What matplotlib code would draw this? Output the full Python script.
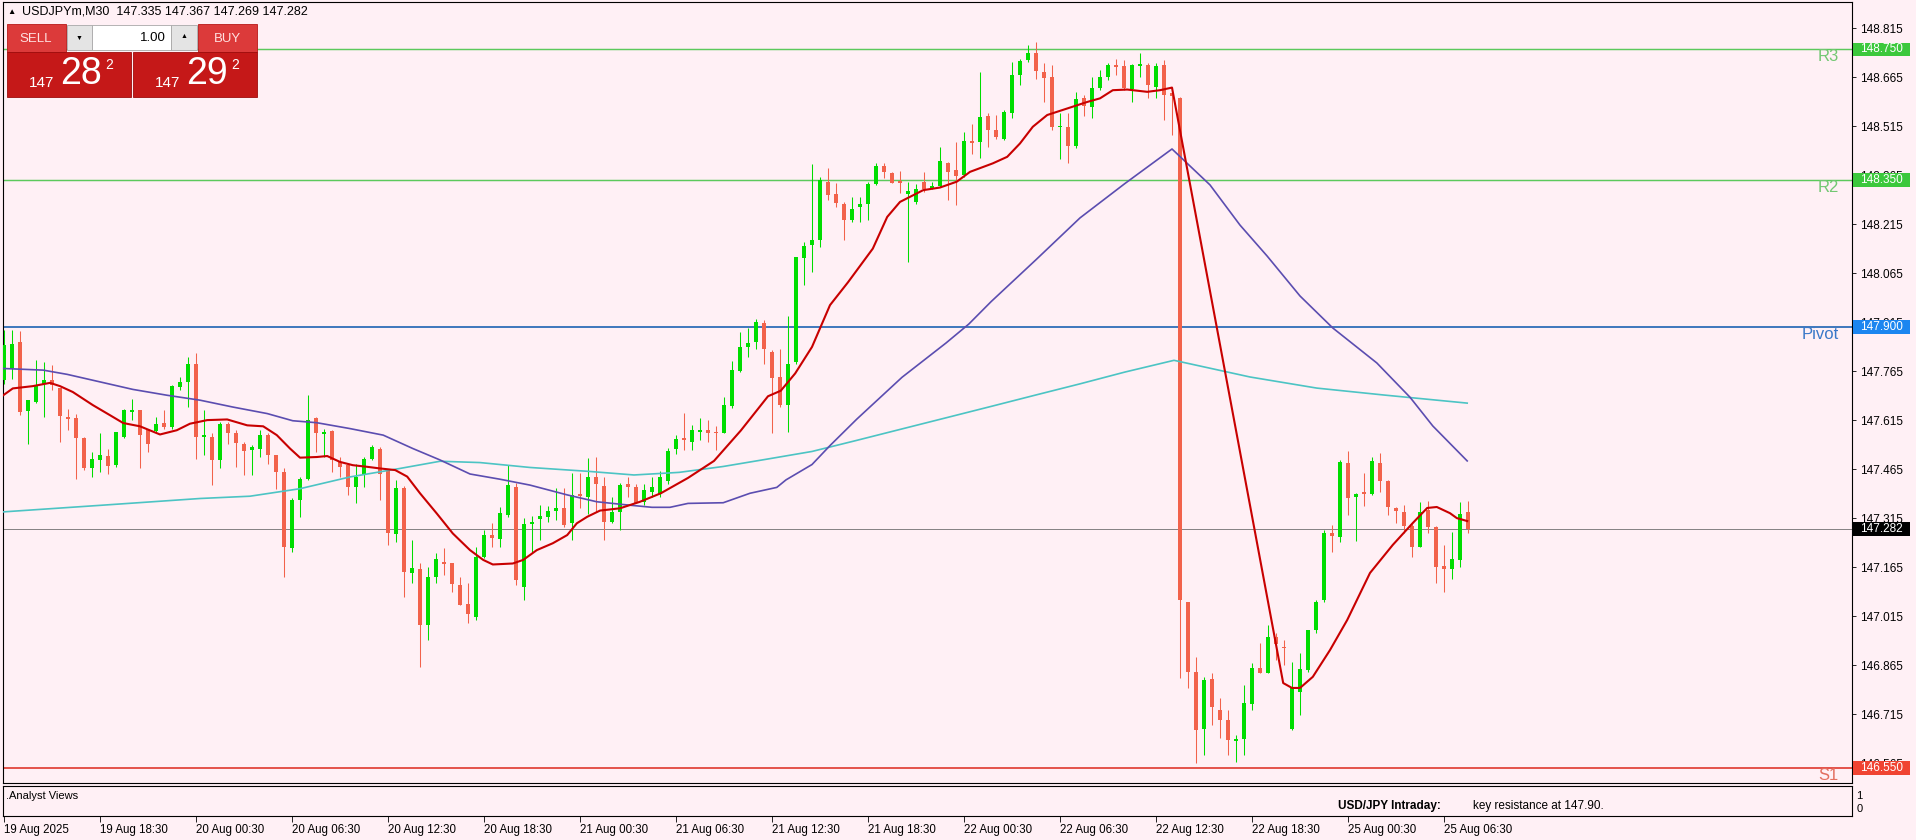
"""
USDJPYm M30 chart - MT4 style candlesticks with MAs and pivot levels.
Writes out.png (1916x840).
"""

import numpy as np
import matplotlib.pyplot as plt
from matplotlib import transforms
from matplotlib.patches import Rectangle

W, H = 1916, 840
BG = "#FFF0F5"
BULL = "#00DD00"
BEAR = "#F2624B"

# ---- OHLC, one bar per 30 min, oldest first ----
bar_open = [
    147.737, 147.773, 147.854, 147.643, 147.671, 147.725, 147.737, 147.712, 147.625, 147.620,
    147.559, 147.467, 147.494, 147.504, 147.477, 147.564, 147.640, 147.645, 147.584, 147.582,
    147.607, 147.594, 147.715, 147.732, 147.788, 147.564, 147.564, 147.494, 147.604, 147.576,
    147.543, 147.523, 147.528, 147.569, 147.508, 147.457, 147.222, 147.370, 147.436, 147.620,
    147.572, 147.581, 147.487, 147.477, 147.411, 147.446, 147.497, 147.528, 147.462, 147.266,
    147.406, 147.148, 147.158, 146.988, 147.136, 147.181, 147.176, 147.110, 147.052, 147.011,
    147.195, 147.263, 147.250, 147.324, 147.411, 147.105, 147.297, 147.311, 147.319, 147.337,
    147.345, 147.299, 147.389, 147.380, 147.442, 147.414, 147.304, 147.335, 147.419, 147.409,
    147.365, 147.395, 147.390, 147.430, 147.525, 147.559, 147.549, 147.579, 147.584, 147.579,
    147.576, 147.658, 147.766, 147.840, 147.855, 147.913, 147.824, 147.748, 147.661, 147.794,
    148.110, 148.151, 148.166, 148.345, 148.306, 148.278, 148.227, 148.266, 148.276, 148.337,
    148.393, 148.370, 148.345, 148.306, 148.283, 148.345, 148.327, 148.331, 148.403, 148.382,
    148.365, 148.470, 148.467, 148.546, 148.503, 148.477, 148.556, 148.671, 148.717, 148.740,
    148.681, 148.664, 148.511, 148.511, 148.454, 148.600, 148.574, 148.633, 148.664, 148.702,
    148.699, 148.630, 148.700, 148.702, 148.635, 148.702, 148.615, 148.600, 147.059, 146.845,
    146.668, 146.821, 146.729, 146.697, 146.632, 146.638, 146.746, 146.855, 146.842, 146.952,
    146.921, 146.668, 146.784, 146.850, 146.972, 147.064, 147.268, 147.258, 147.485, 147.380,
    147.396, 147.389, 147.485, 147.429, 147.345, 147.335, 147.291, 147.227, 147.340, 147.289,
    147.168, 147.158, 147.187, 147.335,
]
bar_high = [
    147.890, 147.892, 147.888, 147.676, 147.798, 147.793, 147.783, 147.712, 147.650, 147.635,
    147.564, 147.518, 147.574, 147.528, 147.579, 147.650, 147.681, 147.645, 147.589, 147.625,
    147.645, 147.722, 147.747, 147.809, 147.819, 147.645, 147.574, 147.610, 147.610, 147.584,
    147.548, 147.538, 147.584, 147.574, 147.508, 147.467, 147.375, 147.441, 147.691, 147.625,
    147.589, 147.584, 147.502, 147.482, 147.482, 147.502, 147.538, 147.533, 147.462, 147.432,
    147.413, 147.248, 147.178, 147.166, 147.207, 147.222, 147.178, 147.135, 147.115, 147.227,
    147.279, 147.299, 147.350, 147.478, 147.421, 147.314, 147.321, 147.355, 147.352, 147.406,
    147.406, 147.452, 147.454, 147.498, 147.501, 147.442, 147.380, 147.423, 147.442, 147.419,
    147.420, 147.440, 147.460, 147.530, 147.570, 147.636, 147.600, 147.620, 147.615, 147.597,
    147.687, 147.797, 147.886, 147.896, 147.926, 147.921, 147.829, 147.834, 147.933, 148.115,
    148.161, 148.399, 148.360, 148.388, 148.340, 148.283, 148.299, 148.299, 148.345, 148.403,
    148.401, 148.375, 148.378, 148.345, 148.337, 148.375, 148.345, 148.452, 148.406, 148.467,
    148.498, 148.523, 148.681, 148.554, 148.549, 148.564, 148.712, 148.719, 148.763, 148.773,
    148.707, 148.702, 148.554, 148.556, 148.620, 148.610, 148.666, 148.686, 148.707, 148.722,
    148.717, 148.705, 148.740, 148.707, 148.707, 148.717, 148.625, 148.605, 147.059, 146.891,
    146.829, 146.840, 146.763, 146.727, 146.651, 146.804, 146.870, 146.933, 146.988, 146.962,
    146.942, 146.875, 146.901, 146.972, 147.064, 147.278, 147.294, 147.493, 147.521, 147.393,
    147.452, 147.503, 147.513, 147.431, 147.348, 147.355, 147.297, 147.365, 147.368, 147.291,
    147.232, 147.273, 147.365, 147.367,
]
bar_low = [
    147.727, 147.742, 147.630, 147.543, 147.666, 147.623, 147.706, 147.548, 147.584, 147.436,
    147.462, 147.441, 147.456, 147.451, 147.472, 147.559, 147.615, 147.467, 147.518, 147.574,
    147.589, 147.589, 147.706, 147.655, 147.497, 147.508, 147.416, 147.467, 147.543, 147.472,
    147.446, 147.446, 147.502, 147.482, 147.405, 147.135, 147.212, 147.319, 147.431, 147.518,
    147.502, 147.457, 147.441, 147.385, 147.360, 147.411, 147.492, 147.370, 147.232, 147.243,
    147.074, 147.115, 146.860, 146.942, 147.115, 147.141, 147.090, 147.049, 146.995, 147.003,
    147.192, 147.227, 147.227, 147.319, 147.110, 147.064, 147.207, 147.248, 147.304, 147.309,
    147.289, 147.248, 147.345, 147.329, 147.335, 147.248, 147.299, 147.278, 147.380, 147.360,
    147.355, 147.380, 147.380, 147.420, 147.510, 147.523, 147.523, 147.554, 147.549, 147.523,
    147.574, 147.651, 147.763, 147.809, 147.834, 147.788, 147.574, 147.656, 147.579, 147.788,
    148.028, 148.069, 148.146, 148.289, 148.268, 148.166, 148.222, 148.222, 148.227, 148.334,
    148.355, 148.340, 148.309, 148.100, 148.278, 148.314, 148.321, 148.329, 148.289, 148.273,
    148.360, 148.431, 148.416, 148.452, 148.477, 148.472, 148.541, 148.640, 148.712, 148.658,
    148.589, 148.503, 148.413, 148.401, 148.447, 148.546, 148.539, 148.627, 148.656, 148.671,
    148.625, 148.589, 148.666, 148.600, 148.600, 148.533, 148.488, 146.824, 146.794, 146.564,
    146.590, 146.681, 146.641, 146.590, 146.569, 146.590, 146.727, 146.840, 146.840, 146.880,
    146.865, 146.666, 146.712, 146.845, 146.962, 147.059, 147.212, 147.243, 147.324, 147.246,
    147.352, 147.386, 147.396, 147.324, 147.299, 147.268, 147.197, 147.225, 147.268, 147.115,
    147.090, 147.130, 147.166, 147.269,
]
bar_close = [
    147.844, 147.849, 147.640, 147.676, 147.722, 147.737, 147.722, 147.627, 147.617, 147.559,
    147.467, 147.497, 147.507, 147.474, 147.579, 147.645, 147.647, 147.569, 147.541, 147.604,
    147.594, 147.719, 147.732, 147.786, 147.564, 147.569, 147.492, 147.604, 147.574, 147.545,
    147.520, 147.533, 147.569, 147.508, 147.457, 147.227, 147.370, 147.436, 147.615, 147.574,
    147.579, 147.492, 147.472, 147.411, 147.441, 147.497, 147.533, 147.451, 147.268, 147.406,
    147.151, 147.161, 146.988, 147.136, 147.189, 147.174, 147.113, 147.049, 147.021, 147.195,
    147.263, 147.253, 147.332, 147.416, 147.127, 147.297, 147.304, 147.321, 147.338, 147.345,
    147.294, 147.386, 147.384, 147.440, 147.419, 147.304, 147.335, 147.415, 147.409, 147.362,
    147.400, 147.410, 147.440, 147.520, 147.556, 147.554, 147.586, 147.586, 147.576, 147.574,
    147.661, 147.768, 147.840, 147.852, 147.916, 147.834, 147.743, 147.661, 147.788, 148.113,
    148.149, 148.166, 148.350, 148.304, 148.280, 148.227, 148.262, 148.276, 148.337, 148.393,
    148.375, 148.342, 148.342, 148.316, 148.324, 148.321, 148.331, 148.409, 148.375, 148.362,
    148.470, 148.462, 148.544, 148.503, 148.482, 148.559, 148.671, 148.715, 148.740, 148.684,
    148.661, 148.511, 148.515, 148.454, 148.597, 148.576, 148.633, 148.664, 148.702, 148.697,
    148.633, 148.702, 148.704, 148.640, 148.699, 148.610, 148.607, 147.064, 146.845, 146.666,
    146.819, 146.736, 146.697, 146.636, 146.638, 146.748, 146.855, 146.842, 146.952, 146.929,
    146.918, 146.794, 146.852, 146.972, 147.059, 147.270, 147.260, 147.488, 147.378, 147.389,
    147.389, 147.491, 147.428, 147.348, 147.338, 147.291, 147.227, 147.335, 147.289, 147.164,
    147.158, 147.189, 147.327, 147.282,
]

# ---- moving averages, read at bar positions ----
ma_fast_bars = [-0.1, 1.1, 3.6, 5.75, 7, 8.6, 11.1, 13.25, 14.9, 17, 19.5, 21.6, 23.25, 25.4,
                27.9, 30.4, 32.4, 34.1, 35.75, 37, 39.1, 40.4, 42, 43.6, 45.4, 47, 48.9, 50.4,
                52, 54.1, 56.1, 58.25, 59.9, 61.1, 63.6, 64.9, 66.6, 68.6, 70.4, 71.6, 72.9,
                74.5, 77, 79.5, 82.1, 85.5, 88.75, 92.1, 95.5, 97.1, 98.9, 101, 103.25, 105.5,
                108.6, 110.4, 112, 114.9, 117, 119.1, 120.75, 123.6, 125.4, 127, 128.6, 130.4,
                132.9, 135.4, 137, 138.6, 140.4, 142.9, 144.5, 146, 159.9, 161, 162, 163.6,
                165.75, 167.9, 170.75, 173.6, 176.1, 177.9, 179.1, 180.75, 181.6, 182.9]
ma_fast = [147.691, 147.712, 147.719, 147.729, 147.719, 147.701, 147.661, 147.630, 147.606,
           147.596, 147.571, 147.584, 147.604, 147.615, 147.617, 147.599, 147.596, 147.569,
           147.528, 147.500, 147.502, 147.505, 147.487, 147.477, 147.472, 147.467, 147.462,
           147.442, 147.391, 147.329, 147.268, 147.217, 147.187, 147.173, 147.176, 147.187,
           147.217, 147.238, 147.263, 147.299, 147.319, 147.338, 147.345, 147.365, 147.391,
           147.438, 147.490, 147.583, 147.688, 147.705, 147.758, 147.839, 147.967, 148.037,
           148.140, 148.237, 148.283, 148.319, 148.327, 148.345, 148.375, 148.401, 148.421,
           148.462, 148.513, 148.549, 148.569, 148.589, 148.600, 148.625, 148.627, 148.620,
           148.625, 148.633, 146.810, 146.795, 146.795, 146.829, 146.911, 147.003, 147.147,
           147.233, 147.300, 147.346, 147.349, 147.330, 147.315, 147.306]

ma_mid_bars = [-0.1, 4.9, 7.9, 12, 16.1, 20.4, 24.5, 28.6, 32.9, 36.1, 39.1, 43.25, 47.4, 51.1,
               54.5, 58.25, 62, 65.75, 70.4, 74.1, 77.6, 81, 83.25, 85.5, 89.9, 93.25, 96.6,
               97.75, 101, 103.25, 106.6, 112.25, 117.75, 120.6, 123.4, 129, 134.5, 140.1, 146,
               150.75, 154.5, 157.9, 162, 166.1, 171.6, 175.75, 178.6, 182.9]
ma_mid = [147.773, 147.768, 147.755, 147.732, 147.709, 147.691, 147.676, 147.655, 147.635,
          147.613, 147.607, 147.589, 147.569, 147.528, 147.493, 147.450, 147.434, 147.416,
          147.386, 147.365, 147.356, 147.348, 147.348, 147.360, 147.362, 147.391, 147.409,
          147.432, 147.479, 147.537, 147.618, 147.746, 147.851, 147.909, 147.978, 148.106,
          148.234, 148.339, 148.445, 148.335, 148.212, 148.117, 147.995, 147.897, 147.790,
          147.685, 147.597, 147.490]

ma_slow_bars = [-0.1, 12, 24.5, 30.75, 37, 43.25, 49.5, 54.5, 59.5, 65.75, 73.1, 78.75, 84.4,
                89.9, 95.5, 101, 106.6, 112.25, 117.75, 123.4, 129, 134.5, 140.1, 146.25,
                155.75, 164.1, 172.4, 182.9]
ma_slow = [147.334, 147.354, 147.375, 147.382, 147.405, 147.441, 147.467, 147.489, 147.485,
           147.470, 147.458, 147.447, 147.455, 147.473, 147.496, 147.519, 147.553, 147.588,
           147.622, 147.657, 147.692, 147.726, 147.762, 147.798, 147.747, 147.713, 147.692,
           147.667]

# ---- levels and labels ----
level_names = ["R3", "R2", "Pivot", "S1"]
level_prices = [148.750, 148.350, 147.900, 146.550]
level_line_colors = ["#5CC95C", "#5CC95C", "#2F6EB8", "#E2463C"]
level_text_colors = ["#72C772", "#72C772", "#3A78C8", "#E36F60"]
level_box_colors = ["#3CC83C", "#3CC83C", "#1C86F0", "#F04432"]
last_price = 147.282
header_values = ["147.335", "147.367", "147.269", "147.282"]

price_ticks = [148.815, 148.665, 148.515, 148.365, 148.215, 148.065, 147.915, 147.765,
               147.615, 147.465, 147.315, 147.165, 147.015, 146.865, 146.715, 146.565]
date_bars = [0, 12, 24, 36, 48, 60, 72, 84, 96, 108, 120, 132, 144, 156, 168, 180]
date_labels = ["19 Aug 2025", "19 Aug 18:30", "20 Aug 00:30", "20 Aug 06:30",
               "20 Aug 12:30", "20 Aug 18:30", "21 Aug 00:30", "21 Aug 06:30",
               "21 Aug 12:30", "21 Aug 18:30", "22 Aug 00:30", "22 Aug 06:30",
               "22 Aug 12:30", "22 Aug 18:30", "25 Aug 00:30", "25 Aug 06:30"]

plt.rcParams["font.family"] = ["Liberation Sans", "DejaVu Sans"]


def px_axes(fig, left, top, right, bottom):
    return fig.add_axes([left / W, 1 - bottom / H, (right - left) / W, (bottom - top) / H])


def draw_candles(ax):
    x = np.arange(len(bar_close))
    o, h, l, c = (np.array(v) for v in (bar_open, bar_high, bar_low, bar_close))
    col = np.where(c >= o, BULL, BEAR)
    ax.vlines(x, l, h, colors=col, linewidth=0.75, zorder=3)
    body = np.maximum(np.abs(c - o), 0.0035)
    ax.bar(x, body, bottom=np.minimum(o, c), width=0.62, color=col, linewidth=0, zorder=3)


def draw_trade_panel(ov):
    # one-click trading widget, top-left
    ov.text(7, 12, "\u25B2", fontsize=6, va="center", color="black")
    ov.text(22, 12, "USDJPYm,M30  " + " ".join(header_values), fontsize=9, va="center")
    for x0, label in [(7, "SELL"), (198, "BUY")]:
        ov.add_patch(Rectangle((x0, 24), 59, 28, fc="#DC3A3A", ec="#B81818", lw=0.6))
        ov.text(x0 + 29, 38.5, label, fontsize=9.5, color="#FFE0E0", ha="center", va="center")
    ov.add_patch(Rectangle((67, 25), 25, 25, fc="#E4E4E4", ec="#A8A8A8", lw=0.6))
    ov.add_patch(Rectangle((92, 25), 79, 25, fc="white", ec="#A8A8A8", lw=0.6))
    ov.add_patch(Rectangle((171, 25), 26, 25, fc="#E4E4E4", ec="#A8A8A8", lw=0.6))
    ov.text(79.5, 38, "\u25BC", fontsize=5, ha="center", va="center")
    ov.text(184, 37, "\u25B2", fontsize=5, ha="center", va="center")
    ov.text(166, 38, "1.00", fontsize=9.5, ha="right", va="center")
    for x0, big in [(7, "28"), (133, "29")]:
        ov.add_patch(Rectangle((x0, 52), 124, 45, fc="#C51818", ec="#9E0C0C", lw=0.6))
        ov.text(x0 + 35, 83, "147", fontsize=11, color="white", ha="center", va="center")
        ov.text(x0 + 74, 74.5, big, fontsize=27, color="white", ha="center", va="center")
        ov.text(x0 + 102, 65, "2", fontsize=10, color="white", ha="center", va="center")


def main():
    fig = plt.figure(figsize=(W / 100, H / 100), dpi=100)
    fig.patch.set_facecolor(BG)

    ax = px_axes(fig, 3, 2, 1852, 783)
    ax.set_facecolor(BG)
    ax.set_xlim(-0.125, 231)
    ax.set_ylim(146.504, 148.895)

    for p, lc in zip(level_prices, level_line_colors):
        ax.axhline(p, color=lc, lw=1.3 if lc != "#5CC95C" else 1.05, zorder=1)
    ax.axhline(last_price, color="#707070", lw=0.6, zorder=1)

    draw_candles(ax)
    ax.plot(ma_slow_bars, ma_slow, color="#4CC4C4", lw=1.2, zorder=4)
    ax.plot(ma_mid_bars, ma_mid, color="#5B4DB0", lw=1.2, zorder=4)
    ax.plot(ma_fast_bars, ma_fast, color="#C80000", lw=1.5, zorder=5)

    ax.yaxis.tick_right()
    ax.set_yticks(price_ticks)
    ax.set_yticklabels([f"{t:.3f}" for t in price_ticks])
    ax.tick_params(axis="y", direction="out", length=3, pad=3, labelsize=8.5, width=0.6)
    ax.set_xticks([])
    for s in ax.spines.values():
        s.set_linewidth(0.8)

    # indicator sub-window
    ax2 = px_axes(fig, 3, 786, 1852, 816)
    ax2.set_facecolor(BG)
    ax2.set_xlim(-0.125, 231)
    ax2.set_ylim(-0.615, 1.69)
    ax2.yaxis.tick_right()
    ax2.set_yticks([0, 1])
    ax2.set_yticklabels(["0", "1"])
    ax2.tick_params(axis="y", length=0, pad=3, labelsize=8)
    ax2.set_xticks(date_bars)
    ax2.set_xticklabels(date_labels)
    ax2.tick_params(axis="x", direction="out", length=4, pad=2, labelsize=8.3, width=0.6)
    for lbl in ax2.get_xticklabels():
        lbl.set_ha("left")
    for s in ax2.spines.values():
        s.set_linewidth(0.8)

    # overlay in pixel coordinates for widgets and price tags
    ov = fig.add_axes([0, 0, 1, 1])
    ov.set_xlim(0, W)
    ov.set_ylim(H, 0)
    ov.axis("off")
    tr = transforms.blended_transform_factory(ov.transData, ax.transData)

    box_h = 0.042
    tags = list(zip(level_prices, level_box_colors)) + [(last_price, "#000000")]
    for p, bc in tags:
        ov.add_patch(Rectangle((1853, p - box_h / 2), 57, box_h, transform=tr,
                               fc=bc, ec="none", clip_on=False))
        ov.text(1881.5, p, f"{p:.3f}", transform=tr, fontsize=8.5, color="white",
                ha="center", va="center", clip_on=False)
    for name, p, tc in zip(level_names, level_prices, level_text_colors):
        ov.text(1839, p, name, transform=tr, fontsize=12, color=tc,
                ha="right", va="top", clip_on=False)

    ov.text(6, 796, ".Analyst Views", fontsize=8, va="center")
    ov.text(1338, 806, "USD/JPY Intraday:", fontsize=8.5, fontweight="bold", va="center")
    ov.text(1473, 806, "key resistance at 147.90.", fontsize=8.5, va="center")

    draw_trade_panel(ov)

    fig.savefig("out.png", dpi=100, facecolor=BG)
    plt.close(fig)


if __name__ == "__main__":
    main()
